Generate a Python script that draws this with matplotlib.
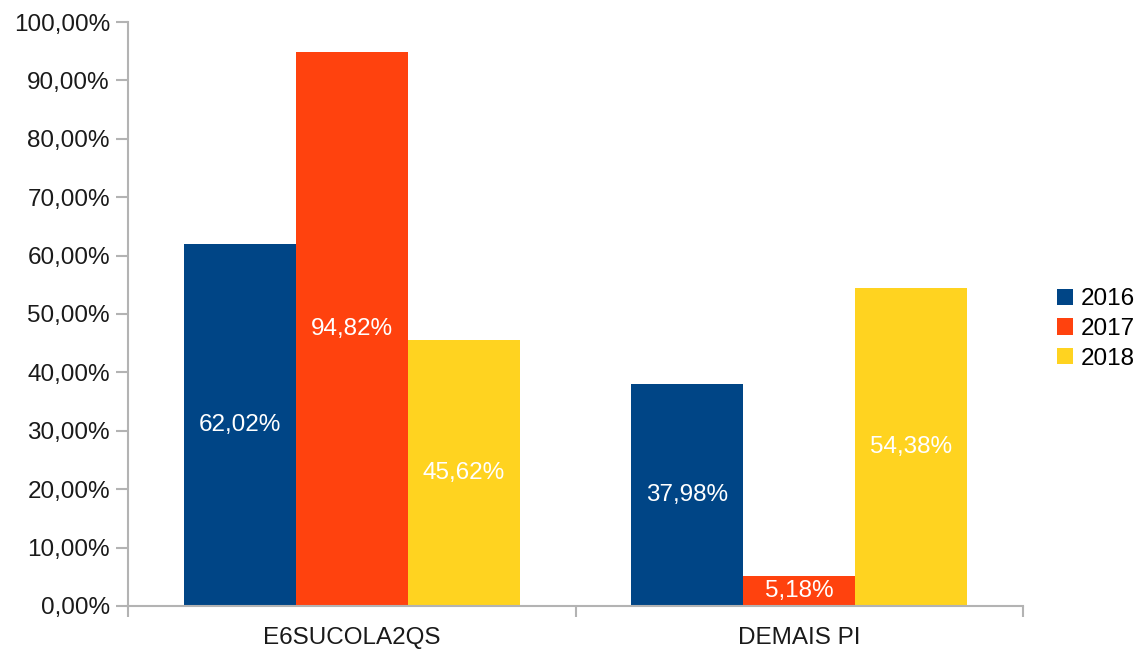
import numpy as np
import matplotlib
matplotlib.use("Agg")
import matplotlib.pyplot as plt
from matplotlib.ticker import FuncFormatter, MultipleLocator, FixedLocator

plt.rcParams['font.family'] = ['Liberation Sans', 'DejaVu Sans']

# chart data
categories = ["E6SUCOLA2QS", "DEMAIS PI"]
years = ["2016", "2017", "2018"]
values_2016 = [62.02, 37.98]
values_2017 = [94.82, 5.18]
values_2018 = [45.62, 54.38]
colors = ["#004586", "#ff420e", "#ffd320"]

series = [values_2016, values_2017, values_2018]


def pct_label(v, decimals=2):
    return f"{v:.{decimals}f}".replace(".", ",") + "%"


fig = plt.figure(figsize=(11.41, 6.53), dpi=100)
ax = fig.add_axes([0.1122, 0.072, 0.7844, 0.8943])

x = np.arange(len(categories))
width = 0.25
for i, (vals, year, col) in enumerate(zip(series, years, colors)):
    bars = ax.bar(x + (i - 1) * width, vals, width, color=col, label=year)
    for b, v in zip(bars, vals):
        ax.text(b.get_x() + b.get_width() / 2, v / 2, pct_label(v),
                ha="center", va="center", color="white", fontsize=17.5)

ax.set_xlim(-0.5, 1.5)
ax.set_ylim(0, 100)
ax.yaxis.set_major_locator(MultipleLocator(10))
ax.yaxis.set_major_formatter(FuncFormatter(lambda v, p: pct_label(v)))

ax.set_xticks(x)
ax.set_xticklabels(categories)
ax.xaxis.set_minor_locator(FixedLocator([-0.5, 0.5, 1.5]))

axis_gray = "#b3b3b3"
for side in ["top", "right"]:
    ax.spines[side].set_visible(False)
for side in ["left", "bottom"]:
    ax.spines[side].set_color(axis_gray)
    ax.spines[side].set_linewidth(1.5)

ax.tick_params(axis="y", length=9, width=1.5, color=axis_gray, pad=4,
               labelsize=17.5, labelcolor="#1a1a1a")
ax.tick_params(axis="x", which="major", length=0, pad=15,
               labelsize=17.5, labelcolor="#1a1a1a")
ax.tick_params(axis="x", which="minor", length=8, width=1.5, color=axis_gray)

leg = fig.legend(loc="center left", bbox_to_anchor=(0.907, 0.496),
                 frameon=False, fontsize=17.5, handlelength=0.65,
                 handleheight=0.65, handletextpad=0.35, labelspacing=0.32)

fig.savefig("out.png", dpi=100)
